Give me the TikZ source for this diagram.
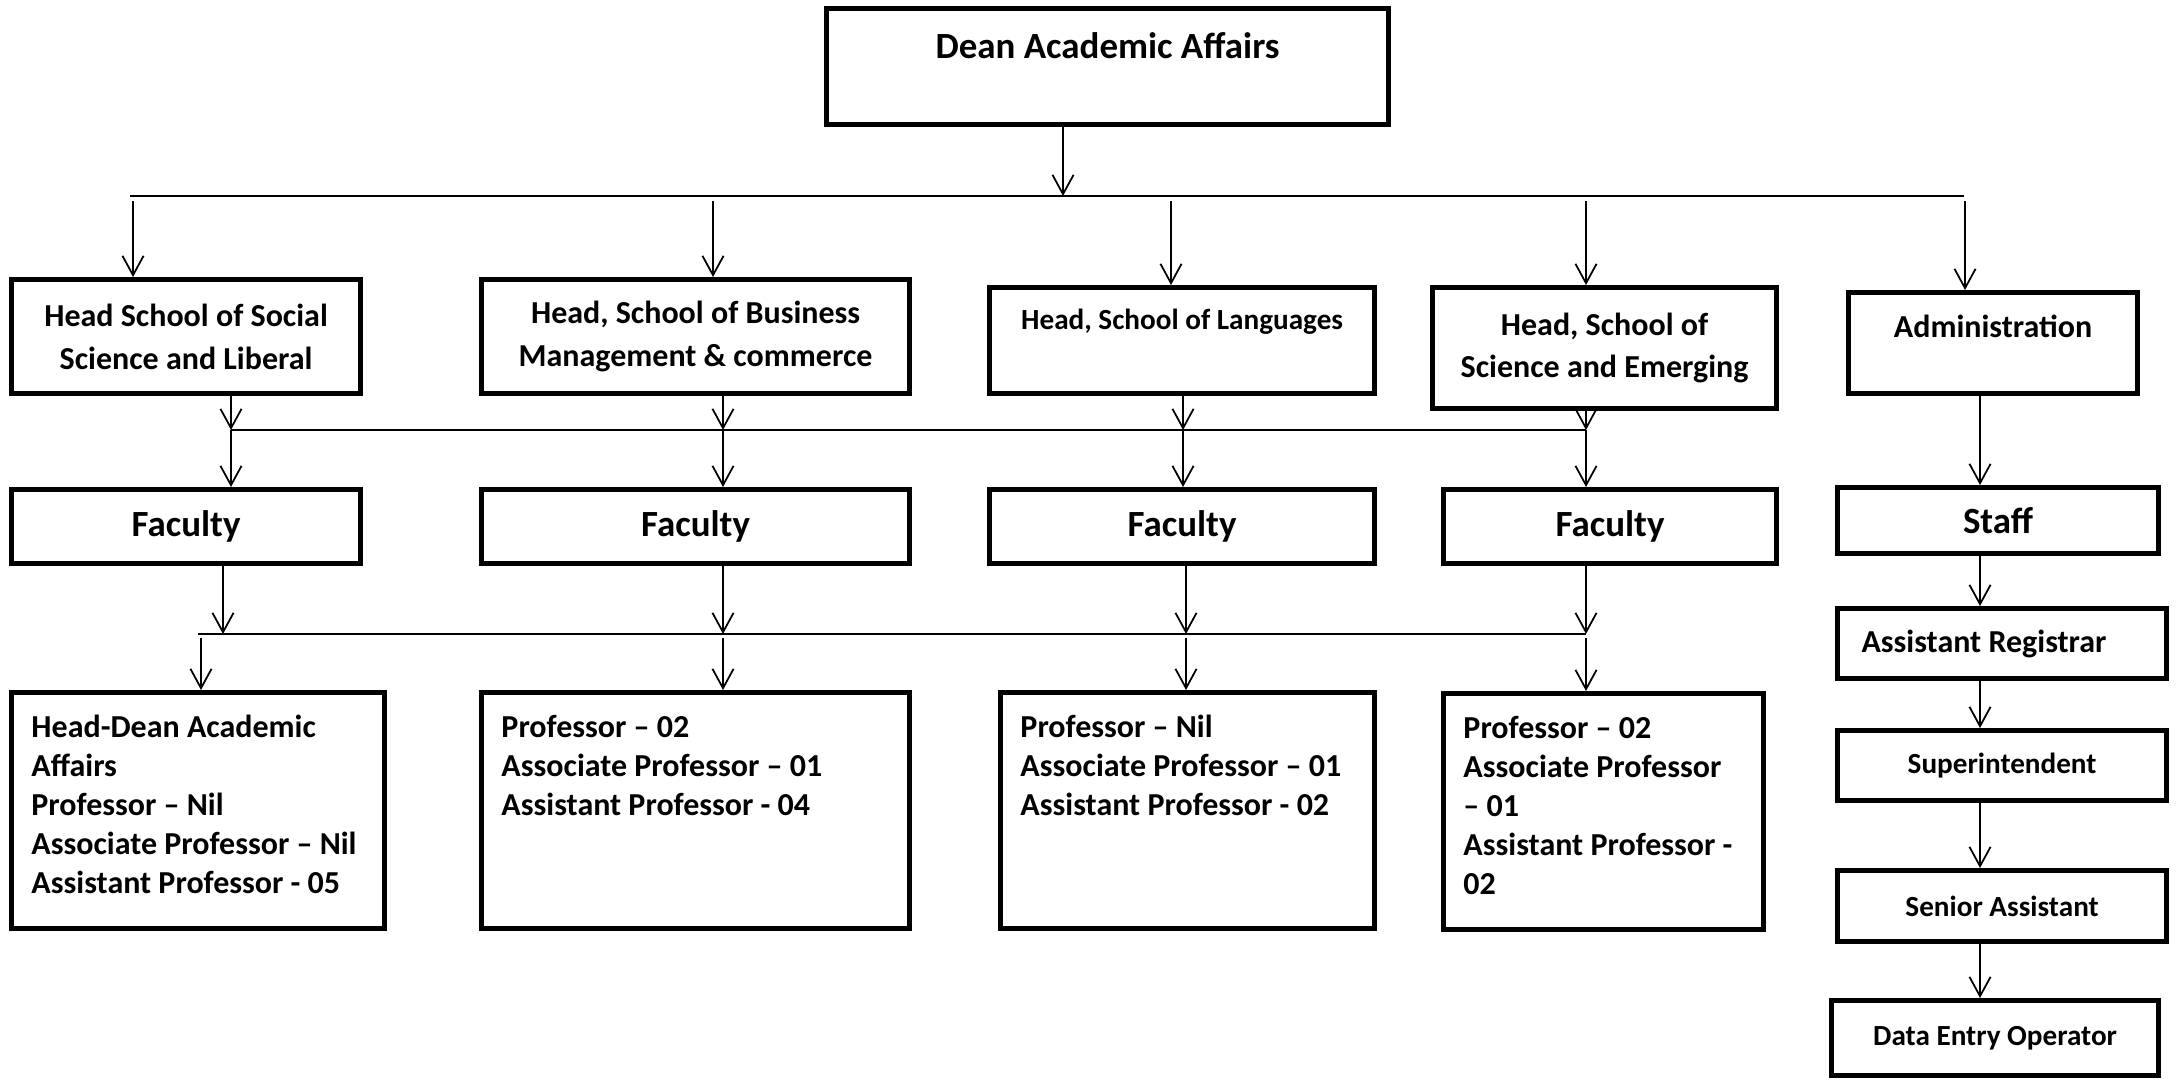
\documentclass[tikz,border=0pt]{standalone}
\usepackage{fontspec}
\setmainfont{Carlito}
\usetikzlibrary{arrows.meta}

\newcommand{\bigtxt}{\fontsize{10.5}{12.8}\selectfont\bfseries}
\newcommand{\midtxt}{\fontsize{9.1}{12.2}\selectfont\bfseries}
\newcommand{\listtxt}{\fontsize{9.1}{11.1}\selectfont\bfseries}
\newcommand{\smalltxt}{\fontsize{8.3}{10}\selectfont\bfseries}

\tikzset{
  box/.style={draw,line width=1.4pt,inner sep=0pt,anchor=north west,align=center},
  listbox/.style={box,align=flush left,font=\listtxt,inner xsep=0.2cm,text height=0.45cm,text depth=1.91cm},
  link/.style={line width=0.5pt,-{Straight Barb[length=5.5pt,width=6pt]}},
  bus/.style={line width=0.7pt}
}

\begin{document}
\begin{tikzpicture}[x=0.01cm,y=-0.01cm]
\useasboundingbox (0,0) rectangle (2179,1081);

% Top box
\node[box,font=\bigtxt,minimum width=5.62cm,text height=0.5cm,text depth=0.66cm] (dean) at (824,6) {Dean Academic Affairs};

% Heads of schools
\node[box,font=\midtxt,minimum width=3.49cm,minimum height=1.14cm] (h1) at (9,277) {Head School of Social\\Science and Liberal};
\node[box,font=\midtxt,minimum width=4.28cm,minimum height=1.14cm] (h2) at (479,277) {Head, School of Business\\Management \& commerce};
\node[box,font=\smalltxt,minimum width=3.85cm,text height=0.42cm,text depth=0.64cm] (h3) at (987,285) {Head, School of Languages};
\node[box,font=\midtxt,minimum width=3.44cm,minimum height=1.21cm] (h4) at (1430,285) {Head, School of\\Science and Emerging};
\node[box,font=\midtxt,minimum width=2.89cm,text height=0.45cm,text depth=0.56cm] (adm) at (1846,290) {Administration};

% Faculty row
\node[box,font=\bigtxt,minimum width=3.49cm,minimum height=0.74cm] (f1) at (9,487) {Faculty};
\node[box,font=\bigtxt,minimum width=4.28cm,minimum height=0.74cm] (f2) at (479,487) {Faculty};
\node[box,font=\bigtxt,minimum width=3.85cm,minimum height=0.74cm] (f3) at (987,487) {Faculty};
\node[box,font=\bigtxt,minimum width=3.33cm,minimum height=0.74cm] (f4) at (1441,487) {Faculty};

% Faculty strength
\node[listbox,text width=3.33cm] (b1) at (9,690) {Head-Dean Academic\\Affairs\\Professor – Nil\\Associate Professor – Nil\\Assistant Professor - 05};
\node[listbox,text width=3.88cm] (b2) at (479,690) {Professor – 02\\Associate Professor – 01\\Assistant Professor - 04};
\node[listbox,text width=3.34cm] (b3) at (998,690) {Professor – Nil\\Associate Professor – 01\\Assistant Professor - 02};
\node[listbox,text width=2.80cm] (b4) at (1441,691) {Professor – 02\\Associate Professor\\– 01\\Assistant Professor -\\02};

% Administration chain
\node[box,font=\bigtxt,minimum width=3.21cm,minimum height=0.66cm] (staff) at (1835,485) {Staff};
\node[box,font=\midtxt,align=flush left,inner xsep=0.24cm,text width=2.81cm,minimum height=0.70cm] (reg) at (1835,606) {Assistant Registrar};
\node[box,font=\smalltxt,minimum width=3.29cm,minimum height=0.70cm] (sup) at (1835,728) {Superintendent};
\node[box,font=\smalltxt,minimum width=3.29cm,minimum height=0.71cm] (sen) at (1835,868) {Senior Assistant};
\node[box,font=\smalltxt,minimum width=3.27cm,minimum height=0.75cm] (deo) at (1829,998) {Data Entry Operator};

% Dean to heads
\coordinate (busA-w) at (130,196);
\coordinate (busA-e) at (1964,196);
\draw[bus] (busA-w) -- (busA-e);
\coordinate (a0) at (1063,196);
\draw[link] (a0 |- dean.south) -- (a0);
\foreach \x/\n in {133/h1,713/h2,1171/h3,1586/h4,1965/adm} {
  \coordinate (t) at (\x,201);
  \draw[link] (t) -- (t |- \n.north);
}

% Heads to faculty
\coordinate (busB-w) at (231,430);
\coordinate (busB-e) at (1586,430);
\draw[bus] (busB-w) -- (busB-e);
\foreach \x/\i in {231/1,723/2,1183/3,1586/4} {
  \coordinate (t) at (\x,430);
  \draw[link] (t |- h\i.south) -- (t);
  \draw[link] (t) -- (t |- f\i.north);
}

% Faculty to strength boxes
\coordinate (busC-w) at (198,634);
\coordinate (busC-e) at (1586,634);
\draw[bus] (busC-w) -- (busC-e);
\foreach \x/\i in {223/1,723/2,1186/3,1586/4} {
  \coordinate (t) at (\x,634);
  \draw[link] (t |- f\i.south) -- (t);
}
\foreach \x/\i in {201/1,723/2,1186/3,1586/4} {
  \coordinate (t) at (\x,638);
  \draw[link] (t) -- (t |- b\i.north);
}

% Administration arrows
\coordinate (rc) at (1980,0);
\draw[link] (rc |- adm.south) -- (rc |- staff.north);
\draw[link] (rc |- staff.south) -- (rc |- reg.north);
\draw[link] (rc |- reg.south) -- (rc |- sup.north);
\draw[link] (rc |- sup.south) -- (rc |- sen.north);
\draw[link] (rc |- sen.south) -- (rc |- deo.north);

\end{tikzpicture}
\end{document}
